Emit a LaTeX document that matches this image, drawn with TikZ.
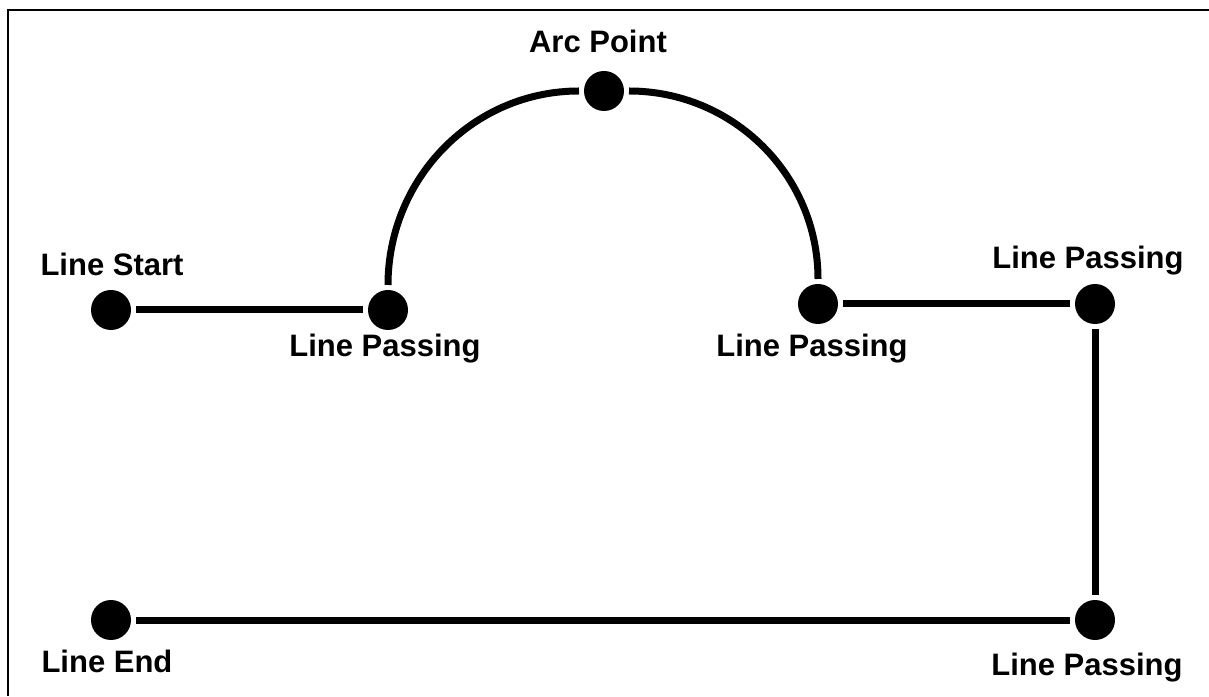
\documentclass[tikz,border=0pt]{standalone}
\usepackage{fontspec}
\setmainfont{Liberation Sans}
\begin{document}
\begin{tikzpicture}[x=1pt,y=1pt,
  dot/.style={circle,fill,inner sep=0pt,minimum size=40pt,outer sep=5pt},
  lbl/.style={font=\fontsize{31}{37}\selectfont\bfseries,anchor=base,inner sep=0pt},
  wire/.style={line width=7pt}]
\useasboundingbox (0,0) rectangle (1209,696);
\draw[line width=2.5pt] (1209,686) -- (8,686) -- (8,0);
% points of the path
\node[dot] (start) at (111,386) {};
\node[dot] (pass1) at (388,386) {};
\node[dot] (arcpt) at (604,605) {};
\node[dot] (pass2) at (818,392) {};
\node[dot] (pass3) at (1095,392) {};
\node[dot] (pass4) at (1095,76) {};
\node[dot] (end) at (111,76) {};
% labels
\node[lbl] (lstart) at (112,420) {Line Start};
\node[lbl] (lpass1) at (385,339) {Line Passing};
\node[lbl] (larcpt) at (598,643) {Arc Point};
\node[lbl] (lpass2) at (812,339) {Line Passing};
\node[lbl] (lpass3) at (1088,427) {Line Passing};
\node[lbl] (lpass4) at (1087,21) {Line Passing};
\node[lbl] (lend) at (107,24) {Line End};
% connections
\draw[wire] (start) -- (pass1);
\draw[wire] (pass1) to[out=90,in=180] (arcpt);
\draw[wire] (arcpt) to[out=0,in=90] (pass2);
\draw[wire] (pass2) -- (pass3);
\draw[wire] (pass3) -- (pass4);
\draw[wire] (pass4) -- (end);
\end{tikzpicture}
\end{document}
